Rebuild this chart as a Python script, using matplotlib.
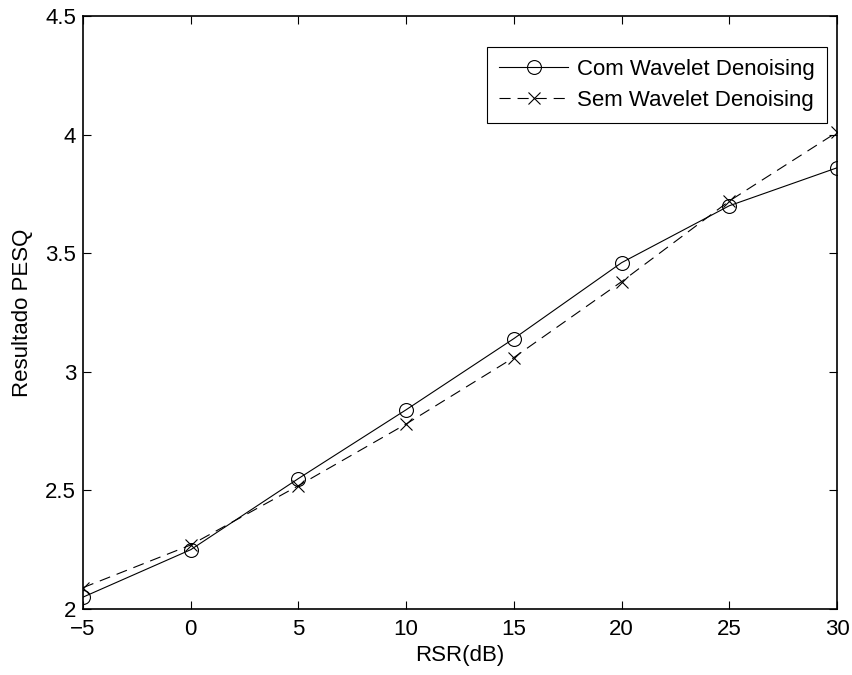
import matplotlib
matplotlib.use("Agg")
import matplotlib.pyplot as plt

plt.rcParams['font.family'] = ['Liberation Sans', 'DejaVu Sans']
plt.rcParams['lines.scale_dashes'] = False

# dados
rsr = [-5, 0, 5, 10, 15, 20, 25, 30]
com_wavelet = [2.05, 2.25, 2.55, 2.84, 3.14, 3.46, 3.70, 3.86]
sem_wavelet = [2.09, 2.27, 2.52, 2.78, 3.06, 3.38, 3.72, 4.01]

fig = plt.figure(figsize=(8.53, 6.75), dpi=100)
ax = fig.add_axes([83 / 853, 1 - 609 / 675, (837 - 83) / 853, (609 - 16) / 675])

ax.plot(rsr, com_wavelet, color='k', lw=0.8, marker='o', ms=10, mfc='none',
        mec='k', mew=0.8, label='Com Wavelet Denoising')
ax.plot(rsr, sem_wavelet, color='k', lw=0.8, ls=(0, (8, 5)), marker='x', ms=8,
        mec='k', mew=0.8, label='Sem Wavelet Denoising')

ax.set_xlim(-5, 30)
ax.set_ylim(2, 4.5)
ax.set_xticks(rsr)
ax.set_xticklabels(['\u22125', '0', '5', '10', '15', '20', '25', '30'])
ax.set_yticks([2, 2.5, 3, 3.5, 4, 4.5])
ax.set_yticklabels(['2', '2.5', '3', '3.5', '4', '4.5'])

ax.tick_params(direction='in', length=6, width=0.8, labelsize=16,
               top=True, right=True, pad=7)
ax.tick_params(axis='y', pad=5)
for s in ax.spines.values():
    s.set_linewidth(1.2)

ax.set_xlabel('RSR(dB)', fontsize=16, labelpad=4)
ax.set_ylabel('Resultado PESQ', fontsize=16, labelpad=9)

leg = ax.legend(loc='upper right', bbox_to_anchor=(0.9867, 0.9477), fontsize=16,
                frameon=True, fancybox=False, edgecolor='k', framealpha=1,
                handlelength=3.1, handletextpad=0.4, borderpad=0.55,
                labelspacing=0.45, borderaxespad=0)
leg.get_frame().set_linewidth(0.8)

fig.savefig('out.png', dpi=100)
